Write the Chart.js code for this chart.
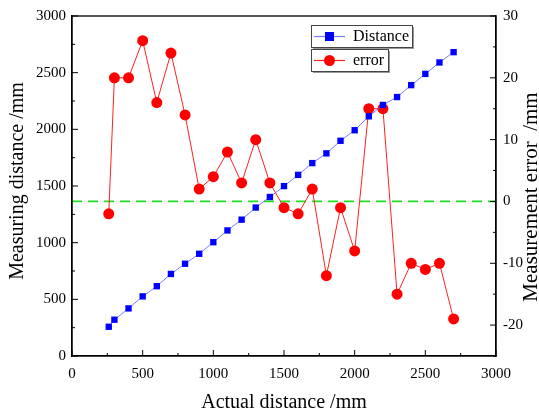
<!DOCTYPE html>
<html>
<head>
<meta charset="utf-8">
<script src="https://cdn.jsdelivr.net/npm/chart.js@4"></script>
<style>
  html, body { margin: 0; padding: 0; background: #fff; }
  #wrap { width: 539px; height: 414px; }
</style>
</head>
<body>
<div id="wrap"><canvas id="chart" width="539" height="414"></canvas></div>
<script>
// actual distance (mm)
const actual = [260, 300, 400, 500, 600, 700, 800, 900, 1000, 1100, 1200, 1300, 1400,
  1500, 1600, 1700, 1800, 1900, 2000, 2100, 2200, 2300, 2400, 2500, 2600, 2700];
const measured = [258, 320, 420, 526, 616, 724, 814, 902, 1004, 1108, 1203, 1310, 1403,
  1499, 1598, 1702, 1788, 1899, 1992, 2115, 2215, 2285, 2390, 2489, 2590, 2681];
// measurement error (mm)
const errors = [-2, 20, 20, 26, 16, 24, 14, 2, 4, 8, 3, 10, 3,
  -1, -2, 2, -12, -1, -8, 15, 15, -15, -10, -11, -10, -19];
const zeroLineX = [0, 3000];
const rightTicks = [-20, -10, 0, 10, 20, 30];

const FONT = "'Liberation Serif', 'Times New Roman', serif";

function pts(xs, ys) {
  return xs.map((x, i) => ({ x: x, y: ys[i] }));
}

function vText(ctx, text, x, y, size) {
  ctx.save();
  ctx.translate(x, y);
  ctx.rotate(-Math.PI / 2);
  ctx.font = size + 'px ' + FONT;
  ctx.textAlign = 'center';
  ctx.textBaseline = 'middle';
  ctx.fillStyle = '#000';
  ctx.fillText(text, 0, 0);
  ctx.restore();
}

// inward ticks, frame, axis titles and the two boxed legend entries
const decor = {
  id: 'decor',
  afterDraw(chart) {
    const ctx = chart.ctx;
    const a = chart.chartArea;
    const sx = chart.scales.x, sy = chart.scales.y, sy1 = chart.scales.y1;
    ctx.save();
    ctx.strokeStyle = '#000';
    ctx.lineWidth = 1.3;
    ctx.strokeRect(a.left, a.top, a.right - a.left, a.bottom - a.top);
    ctx.lineWidth = 1;
    ctx.beginPath();
    for (let v = 0; v <= 3000; v += 250) {
      const len = v % 500 === 0 ? 6 : 3;
      const px = sx.getPixelForValue(v);
      ctx.moveTo(px, a.bottom); ctx.lineTo(px, a.bottom - len);
      const py = sy.getPixelForValue(v);
      ctx.moveTo(a.left, py); ctx.lineTo(a.left + len, py);
    }
    for (let v = -25; v <= 30; v += 5) {
      const len = v % 10 === 0 ? 6 : 3;
      const py = sy1.getPixelForValue(v);
      ctx.moveTo(a.right, py); ctx.lineTo(a.right - len, py);
    }
    ctx.stroke();

    // axis titles
    vText(ctx, 'Measuring distance /mm', 18, 181, 20);
    vText(ctx, 'Measurement error  /mm', 531, 197, 21);
    ctx.font = '20px ' + FONT;
    ctx.fillStyle = '#000';
    ctx.textAlign = 'center';
    ctx.textBaseline = 'middle';
    ctx.fillText('Actual distance /mm', (a.left + a.right) / 2, 403);

    // legend
    const items = [
      { label: 'Distance', ds: chart.data.datasets[0], x: 311, y: 25, w: 101, h: 22 },
      { label: 'error', ds: chart.data.datasets[1], x: 311, y: 49, w: 77, h: 22 }
    ];
    items.forEach(it => {
      ctx.fillStyle = '#999';
      ctx.fillRect(it.x + 2, it.y + 2, it.w, it.h);
      ctx.fillStyle = '#fff';
      ctx.fillRect(it.x, it.y, it.w, it.h);
      ctx.strokeStyle = '#444';
      ctx.lineWidth = 1;
      ctx.strokeRect(it.x + 0.5, it.y + 0.5, it.w, it.h);
      const cy = it.y + it.h / 2 + 0.5;
      ctx.strokeStyle = it.ds.borderColor;
      ctx.lineWidth = 1.2;
      ctx.beginPath();
      ctx.moveTo(it.x + 3, cy); ctx.lineTo(it.x + 34, cy);
      ctx.stroke();
      ctx.fillStyle = it.ds.pointBackgroundColor;
      if (it.ds.pointStyle === 'rect') {
        ctx.fillRect(it.x + 18.5 - 4.5, cy - 4.5, 9, 9);
      } else {
        ctx.beginPath();
        ctx.arc(it.x + 18.5, cy, 5.5, 0, Math.PI * 2);
        ctx.fill();
      }
      ctx.fillStyle = '#000';
      ctx.font = '16px ' + FONT;
      ctx.textAlign = 'left';
      ctx.textBaseline = 'middle';
      ctx.fillText(it.label, it.x + 42, cy);
    });
    ctx.restore();
  }
};

const tickFont = { family: FONT, size: 15 };

new Chart(document.getElementById('chart').getContext('2d'), {
  type: 'line',
  data: {
    datasets: [
      {
        label: 'Distance',
        data: pts(actual, measured),
        yAxisID: 'y',
        borderColor: 'rgba(110,110,255,0.9)',
        borderWidth: 1,
        pointStyle: 'rect',
        pointRadius: 4.5,
        pointBackgroundColor: '#0000ff',
        pointBorderColor: '#0000ff',
        pointBorderWidth: 0
      },
      {
        label: 'error',
        data: pts(actual, errors),
        yAxisID: 'y1',
        borderColor: '#ff2020',
        borderWidth: 1,
        pointStyle: 'circle',
        pointRadius: 5.5,
        pointBackgroundColor: '#ff0000',
        pointBorderColor: '#ff0000',
        pointBorderWidth: 0
      },
      {
        label: 'zero',
        data: zeroLineX.map(x => ({ x: x, y: 0 })),
        yAxisID: 'y1',
        borderColor: '#1ee01e',
        borderWidth: 1.8,
        borderDash: [10, 6],
        pointRadius: 0
      }
    ]
  },
  options: {
    responsive: false,
    animation: false,
    layout: { padding: { top: 16, left: 0, right: 0, bottom: 0 } },
    plugins: { legend: { display: false }, tooltip: { enabled: false } },
    scales: {
      x: {
        type: 'linear',
        min: 0, max: 3000,
        grid: { display: false, drawTicks: false },
        border: { color: '#000', width: 1.3 },
        ticks: { stepSize: 500, color: '#000', padding: 9, font: tickFont, callback: v => String(v) },
        afterFit(s) { s.height = 58; }
      },
      y: {
        position: 'left',
        min: 0, max: 3000,
        grid: { display: false, drawTicks: false },
        border: { color: '#000', width: 1.3 },
        ticks: { stepSize: 500, color: '#000', padding: 6, font: tickFont, callback: v => String(v) },
        afterFit(s) { s.width = 72; }
      },
      y1: {
        position: 'right',
        min: -25, max: 30,
        grid: { display: false, drawTicks: false },
        border: { color: '#000', width: 1.3 },
        ticks: { color: '#000', padding: 7, font: tickFont, callback: v => String(v) },
        afterBuildTicks(s) { s.ticks = rightTicks.map(v => ({ value: v })); },
        afterFit(s) { s.width = 43; }
      }
    }
  },
  plugins: [decor]
});
</script>
</body>
</html>
